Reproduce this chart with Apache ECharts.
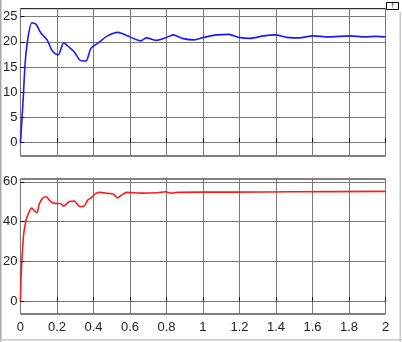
<!DOCTYPE html>
<html><head><meta charset="utf-8">
<script src="https://cdn.jsdelivr.net/npm/echarts@6/dist/echarts.min.js"></script>
<style>html,body{margin:0;padding:0;background:#fff}#c{width:402px;height:342px}</style>
</head><body><div id="c"></div>
<script>
// Top plot (blue)
const blueT = [0,0.0146,0.0255,0.04,0.062,0.0855,0.113,0.146,0.171,0.189,0.207,0.237,0.268,0.295,0.322,0.340,0.359,0.386,0.422,0.477,0.535,0.586,0.631,0.659,0.69,0.741,0.795,0.837,0.886,0.95,1.005,1.077,1.141,1.196,1.259,1.332,1.396,1.46,1.523,1.605,1.687,1.805,1.887,1.95,2];
const blueV = [0,8.4,15.7,20.5,23.8,23.5,21.7,20.4,18.4,17.7,17.4,19.8,18.9,18.0,16.5,16.2,16.2,18.7,19.7,21.2,21.9,21.2,20.5,20.2,20.8,20.3,20.8,21.4,20.7,20.4,20.9,21.4,21.5,20.9,20.7,21.2,21.4,20.9,20.8,21.2,21.0,21.2,21.0,21.1,21.0];
// Bottom plot (red)
const redT = [0,0.0036,0.009,0.018,0.031,0.044,0.062,0.076,0.089,0.104,0.122,0.14,0.158,0.177,0.204,0.218,0.237,0.251,0.268,0.295,0.31,0.328,0.349,0.368,0.389,0.413,0.44,0.477,0.51,0.531,0.553,0.582,0.659,0.75,0.795,0.826,0.859,0.986,1.168,1.5,2];
const redV = [0,12.4,22.4,34,40.8,44.1,46.8,45.5,44.5,49.1,51.8,52.5,50.8,49.5,49.1,49.1,47.8,48.8,50.1,50.3,48.8,47.5,47.8,50.8,52.1,54.2,54.7,54.2,53.7,52.0,53.3,54.7,54.3,54.5,55.0,54.3,54.7,54.8,54.8,55.0,55.2];
const topTicks = [0,5,10,15,20,25];
const bottomTicks = [0,20,40,60];
const xMin = 0, xMax = 2, xStep = 0.2;

const pair = (t, v) => t.map((x, i) => [x, v[i]]);
const font = {fontFamily: 'Liberation Sans, Arial, sans-serif', fontSize: 13, color: '#222'};
const grid = (top, height) => ({left: 19.5, right: 16.5, top, height, show: true, borderColor: '#000', borderWidth: 1, backgroundColor: '#fff'});
const xAx = (gi, showLabel) => ({
  type: 'value', gridIndex: gi, min: xMin, max: xMax, interval: xStep,
  axisLine: {show: false},
  axisTick: {show: true, inside: true, length: 4, lineStyle: {color: '#000'}},
  axisLabel: Object.assign({show: showLabel, margin: 7}, font),
  splitLine: {show: true, lineStyle: {color: '#7a7a7a', width: 1}}
});
const yAx = (gi, min, max, ticks) => ({
  type: 'value', gridIndex: gi, min, max,
  axisLine: {show: false},
  axisTick: {show: true, inside: true, length: 4, lineStyle: {color: '#000'}, customValues: ticks},
  axisLabel: Object.assign({margin: 3, customValues: ticks}, font),
  splitLine: {show: true, lineStyle: {color: '#7a7a7a', width: 1}}
});

const chart = echarts.init(document.getElementById('c'));
chart.setOption({
  animation: false,
  backgroundColor: '#fff',
  grid: [grid(8.7, 147.3), grid(179, 135)],
  xAxis: [xAx(0, false), xAx(1, true)],
  yAxis: [yAx(0, -2.7, 26.6, topTicks), yAx(1, -6.4, 61.4, bottomTicks)],
  series: [
    {type: 'line', xAxisIndex: 0, yAxisIndex: 0, data: pair(blueT, blueV), showSymbol: false, smooth: 0.25, lineStyle: {color: '#1a1aff', width: 1.6}},
    {type: 'line', xAxisIndex: 1, yAxisIndex: 1, data: pair(redT, redV), showSymbol: false, smooth: 0.35, lineStyle: {color: '#ff1a1a', width: 1.6}}
  ],
  graphic: [
    {type: 'rect', shape: {x: 0, y: 0, width: 1.5, height: 342}, style: {fill: '#a8a8a8'}, silent: true},
    {type: 'rect', shape: {x: 0, y: 339, width: 402, height: 1.5}, style: {fill: '#c8c8c8'}, silent: true},
    {type: 'rect', shape: {x: 399.5, y: 12, width: 1.5, height: 330}, style: {fill: '#c8c8c8'}, silent: true},
    {type: 'rect', shape: {x: 386.5, y: 2.5, width: 12, height: 7}, style: {fill: '#fff', stroke: '#000', lineWidth: 1}, silent: true},
    {type: 'text', x: 392.5, y: 6, style: {text: '↑', font: 'bold 8px Liberation Sans', fill: '#000', align: 'center', verticalAlign: 'middle'}, silent: true}
  ]
});
</script></body></html>
